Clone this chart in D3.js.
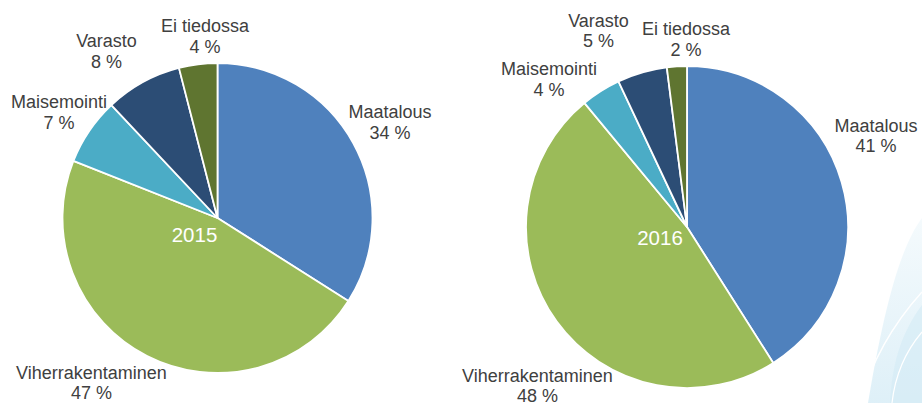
<!DOCTYPE html>
<html>
<head>
<meta charset="utf-8">
<script src="https://cdn.jsdelivr.net/npm/d3@7"></script>
<style>
  body { margin: 0; background: #fff; }
  svg { display: block; }
</style>
</head>
<body>
<svg id="chart" width="922" height="403"></svg>
<script>
// data
const categories = ["Maatalous", "Viherrakentaminen", "Maisemointi", "Varasto", "Ei tiedossa"];
const years = ["2015", "2016"];
const values2015 = [34, 47, 7, 8, 4];
const values2016 = [41, 48, 4, 5, 2];
const colors = ["#4f81bd", "#9bbb59", "#4bacc6", "#2c4d75", "#5f7530"];

// layout for each pie: center, radius, label spots (x center, first baseline)
const pies = [
  { year: years[0], values: values2015, cx: 217.5, cy: 218, r: 155, yearPos: [194.5, 241.5],
    labels: [[390, 118], [91.5, 378.5], [59, 108], [106.5, 47], [205, 32]] },
  { year: years[1], values: values2016, cx: 687, cy: 227, r: 161, yearPos: [660, 245],
    labels: [[876, 131.5], [537.5, 381.5], [549, 75], [598.5, 26.5], [686, 35]] }
];
const lineGap = 20.5;

const svg = d3.select("#chart");

// light decorative swoosh at the bottom right
const defs = svg.append("defs");
const grad = defs.append("linearGradient").attr("id", "swoosh")
  .attr("x1", 0).attr("y1", 0).attr("x2", 0).attr("y2", 1);
grad.append("stop").attr("offset", "0%").attr("stop-color", "#f2f9fc");
grad.append("stop").attr("offset", "100%").attr("stop-color", "#d6ecf6");
const deco = svg.append("g");
deco.append("path")
  .attr("d", "M922,218 C898,250 882,320 868,403 L922,403 Z")
  .attr("fill", "url(#swoosh)").attr("opacity", 0.8);
deco.append("path")
  .attr("d", "M922,305 C902,332 892,362 890,403 L922,403 Z")
  .attr("fill", "#d3ebf5").attr("opacity", 0.6);
deco.append("path")
  .attr("d", "M922,292 C895,322 872,360 860,403")
  .attr("fill", "none").attr("stroke", "#fff").attr("stroke-width", 1.5);
deco.append("path")
  .attr("d", "M922,332 C905,352 895,376 892,403")
  .attr("fill", "none").attr("stroke", "#fff").attr("stroke-width", 1.2);

const pie = d3.pie().sort(null).value(d => d);

pies.forEach(p => {
  const arc = d3.arc().innerRadius(0).outerRadius(p.r);
  const g = svg.append("g").attr("transform", `translate(${p.cx},${p.cy})`);

  g.selectAll("path")
    .data(pie(p.values))
    .enter()
    .append("path")
    .attr("d", arc)
    .attr("fill", (d, i) => colors[i])
    .attr("stroke", "#fff")
    .attr("stroke-width", 1.8)
    .attr("stroke-linejoin", "round");

  // year in the middle
  svg.append("text")
    .attr("x", p.yearPos[0])
    .attr("y", p.yearPos[1])
    .attr("text-anchor", "middle")
    .style("font-family", "'Liberation Sans', Arial, sans-serif")
    .style("font-size", "20.5px")
    .attr("fill", "#fff")
    .text(p.year);

  // category labels with percents
  const lab = svg.selectAll(null)
    .data(p.values)
    .enter()
    .append("text")
    .attr("text-anchor", "middle")
    .style("font-family", "'Liberation Sans', Arial, sans-serif")
    .style("font-size", "18px")
    .attr("fill", "#404040");
  lab.append("tspan")
    .attr("x", (d, i) => p.labels[i][0])
    .attr("y", (d, i) => p.labels[i][1])
    .text((d, i) => categories[i]);
  lab.append("tspan")
    .attr("x", (d, i) => p.labels[i][0])
    .attr("y", (d, i) => p.labels[i][1] + lineGap)
    .text(d => d + " %");
});
</script>
</body>
</html>
